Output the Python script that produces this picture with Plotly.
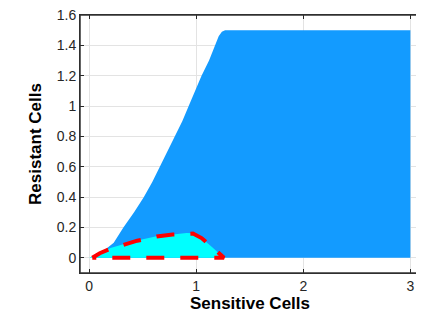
import plotly.graph_objects as go

# Outer (blue) region: upper boundary of resistant vs sensitive cells
blue_x = [0.05, 0.10, 0.16, 0.23, 0.32, 0.42, 0.51, 0.59, 0.66, 0.73, 0.80, 0.87, 0.93,
          0.99, 1.05, 1.12, 1.18, 1.21, 1.24, 1.27, 3.0, 3.0]
blue_y = [0.0, 0.03, 0.06, 0.10, 0.20, 0.30, 0.40, 0.50, 0.60, 0.70, 0.80, 0.90, 1.00,
          1.10, 1.20, 1.30, 1.40, 1.46, 1.49, 1.50, 1.50, 0.0]

# Inner (cyan) region, outlined by red dashes
cyan_x = [0.0, 0.1, 0.2, 0.32, 0.45, 0.63, 0.78, 0.91, 0.97, 1.05, 1.15, 1.26]
cyan_y = [0.0, 0.035, 0.065, 0.09, 0.115, 0.142, 0.156, 0.164, 0.162, 0.13, 0.07, 0.0]

# Red dashed outline of the inner region
red_x = [0.03, 0.1, 0.2, 0.32, 0.45, 0.63, 0.78, 0.97, 1.05, 1.15, 1.26, 0.03]
red_y = [0.0, 0.03, 0.06, 0.088, 0.113, 0.14, 0.154, 0.16, 0.13, 0.07, 0.0, 0.0]

x_ticks = [0, 1, 2, 3]
y_ticks = [0, 0.2, 0.4, 0.6, 0.8, 1, 1.2, 1.4, 1.6]
y_tick_text = ["0", "0.2", "0.4", "0.6", "0.8", "1", "1.2", "1.4", "1.6"]

fig = go.Figure()
fig.add_trace(go.Scatter(x=blue_x, y=blue_y, fill="toself", mode="lines",
                         line=dict(width=0, color="#139BFF"),
                         fillcolor="#139BFF", hoverinfo="skip"))
fig.add_trace(go.Scatter(x=cyan_x, y=cyan_y, fill="toself", mode="lines",
                         line=dict(width=0, color="#00FFFF"),
                         fillcolor="#00FFFF", hoverinfo="skip"))
fig.add_trace(go.Scatter(x=red_x, y=red_y, mode="lines",
                         line=dict(width=4, color="#FF0000", dash="18px,16px"),
                         hoverinfo="skip"))

font = "Liberation Sans, Arial, sans-serif"
fig.update_layout(
    width=424, height=316,
    margin=dict(l=72, r=12, t=7, b=51, autoexpand=False),
    paper_bgcolor="white", plot_bgcolor="white",
    showlegend=False,
    font=dict(family=font, size=14, color="#262626"),
    shapes=[dict(type="rect", xref="paper", yref="paper", x0=0, y0=0, x1=1, y1=1,
                 line=dict(color="#333333", width=1.5), layer="above")],
)
fig.update_xaxes(range=[-0.085, 3.09], tickvals=x_ticks, ticks="inside", ticklen=4,
                 tickcolor="#262626", ticklabeloverflow="allow",
                 showline=True, linecolor="#262626", linewidth=1, mirror="ticks",
                 showgrid=True, gridcolor="#e3e3e3", zeroline=False,
                 title=dict(text="<b>Sensitive Cells</b>", standoff=2,
                            font=dict(size=17, color="#000000")),
                 tickfont=dict(size=14, color="#262626"))
fig.update_yaxes(range=[-0.1, 1.6005], tickvals=y_ticks, ticktext=y_tick_text,
                 ticks="inside", ticklen=4, tickcolor="#262626", ticklabeloverflow="allow",
                 showline=True, linecolor="#262626", linewidth=1, mirror="ticks",
                 showgrid=True, gridcolor="#e3e3e3", zeroline=False,
                 title=dict(text="<b>Resistant Cells</b>", standoff=10,
                            font=dict(size=17, color="#000000")),
                 tickfont=dict(size=14, color="#262626"))

fig.write_html("out.html")
